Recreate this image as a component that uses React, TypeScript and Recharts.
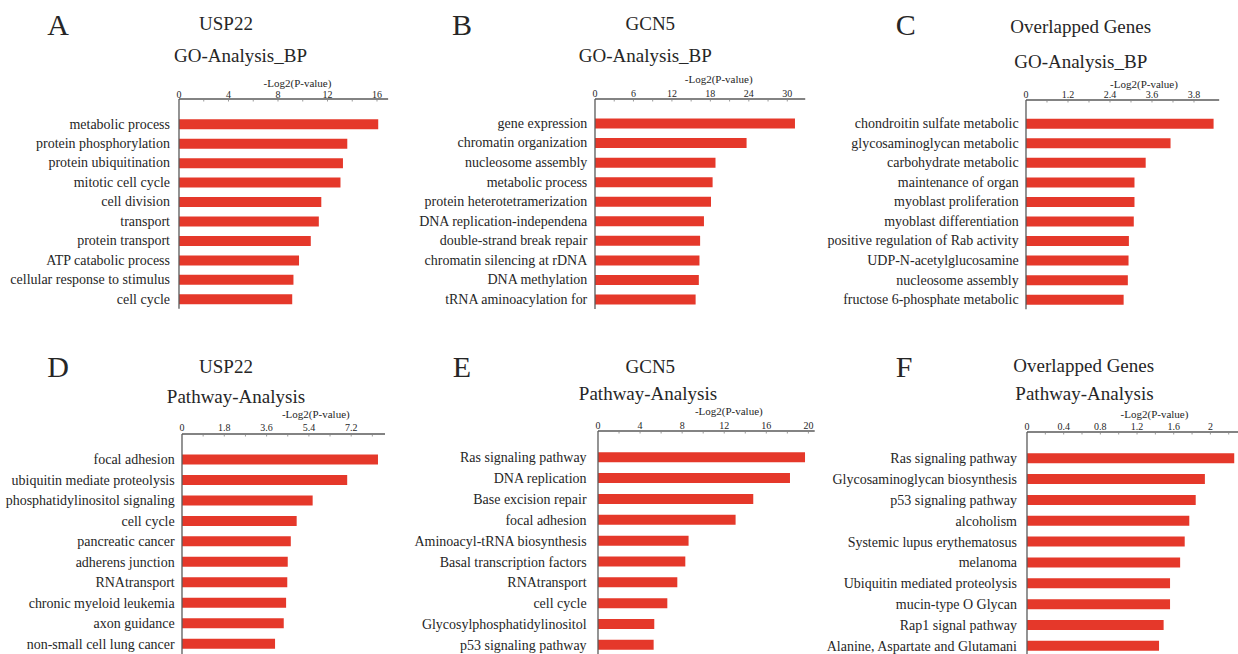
import React from 'react';
import { BarChart, Bar, XAxis, YAxis } from 'recharts';

const FONT = '"Liberation Serif", "Times New Roman", Times, serif';
const BAR_COLOR = '#e5382a';
const AXIS_COLOR = '#5a5a5a';
const TEXT_COLOR = '#262626';

// ---- Panel A: USP22 GO-Analysis_BP ----
const A_CATS = ['metabolic process', 'protein phosphorylation', 'protein ubiquitination', 'mitotic cell cycle', 'cell division', 'transport', 'protein transport', 'ATP catabolic process', 'cellular response to stimulus', 'cell cycle'];
const A_VALS = [16.1, 13.6, 13.25, 13.05, 11.5, 11.3, 10.65, 9.7, 9.25, 9.15];
const A_TICKS = [0, 2, 4, 6, 8, 10, 12, 14, 16];
const A_TICK_LABELS = ['0', '', '4', '', '8', '', '12', '', '16'];

// ---- Panel B: GCN5 GO-Analysis_BP ----
const B_CATS = ['gene expression', 'chromatin organization', 'nucleosome assembly', 'metabolic process', 'protein heterotetramerization', 'DNA replication-independena', 'double-strand break repair', 'chromatin silencing at rDNA', 'DNA methylation', 'tRNA aminoacylation for'];
const B_VALS = [31.2, 23.65, 18.8, 18.35, 18.1, 17.0, 16.4, 16.3, 16.2, 15.7];
const B_TICKS = [0, 3, 6, 9, 12, 15, 18, 21, 24, 27, 30];
const B_TICK_LABELS = ['0', '', '6', '', '12', '', '18', '', '24', '', '30'];

// ---- Panel C: Overlapped Genes GO-Analysis_BP ----
const C_CATS = ['chondroitin sulfate metabolic', 'glycosaminoglycan metabolic', 'carbohydrate metabolic', 'maintenance of organ', 'myoblast proliferation', 'myoblast differentiation', 'positive regulation of Rab activity', 'UDP-N-acetylglucosamine', 'nucleosome assembly', 'fructose 6-phosphate metabolic'];
const C_VALS = [5.36, 4.13, 3.42, 3.1, 3.1, 3.08, 2.94, 2.93, 2.91, 2.79];
const C_TICKS = [0, 0.6, 1.2, 1.8, 2.4, 3.0, 3.6, 4.2, 4.8];
const C_TICK_LABELS = ['0', '', '1.2', '', '2.4', '', '3.6', '', '3.8'];

// ---- Panel D: USP22 Pathway-Analysis ----
const D_CATS = ['focal adhesion', 'ubiquitin mediate proteolysis', 'phosphatidylinositol signaling', 'cell cycle', 'pancreatic cancer', 'adherens junction', 'RNAtransport', 'chronic myeloid leukemia', 'axon guidance', 'non-small cell lung cancer'];
const D_VALS = [8.34, 7.03, 5.56, 4.88, 4.63, 4.5, 4.48, 4.43, 4.33, 3.96];
const D_TICKS = [0, 0.9, 1.8, 2.7, 3.6, 4.5, 5.4, 6.3, 7.2, 8.1];
const D_TICK_LABELS = ['0', '', '1.8', '', '3.6', '', '5.4', '', '7.2', ''];

// ---- Panel E: GCN5 Pathway-Analysis ----
const E_CATS = ['Ras signaling pathway', 'DNA replication', 'Base excision repair', 'focal adhesion', 'Aminoacyl-tRNA biosynthesis', 'Basal transcription factors', 'RNAtransport', 'cell cycle', 'Glycosylphosphatidylinositol', 'p53 signaling pathway'];
const E_VALS = [19.68, 18.25, 14.76, 13.08, 8.61, 8.3, 7.54, 6.59, 5.35, 5.29];
const E_TICKS = [0, 2, 4, 6, 8, 10, 12, 14, 16, 18, 20];
const E_TICK_LABELS = ['0', '', '4', '', '8', '', '12', '', '16', '', '20'];

// ---- Panel F: Overlapped Genes Pathway-Analysis ----
const F_CATS = ['Ras signaling pathway', 'Glycosaminoglycan biosynthesis', 'p53 signaling pathway', 'alcoholism', 'Systemic lupus erythematosus', 'melanoma', 'Ubiquitin mediated proteolysis', 'mucin-type O Glycan', 'Rap1 signal pathway', 'Alanine, Aspartate and Glutamani'];
const F_VALS = [2.26, 1.94, 1.84, 1.77, 1.72, 1.67, 1.56, 1.56, 1.49, 1.44];
const F_TICKS = [0, 0.2, 0.4, 0.6, 0.8, 1.0, 1.2, 1.4, 1.6, 1.8, 2.0, 2.2];
const F_TICK_LABELS = ['0', '', '0.4', '', '0.8', '', '1.2', '', '1.6', '', '2', ''];

const AXIS_TITLE = '-Log2(P-value)';

type PanelProps = {
  cats: string[];
  vals: number[];
  ticks: number[];
  tickLabels: string[];
  x0: number;
  ppu: number;
  dmax: number;
  axisY: number;
  firstC: number;
  lastC: number;
  labelGap: number;
  tickBase: number;
};

const LABEL_W = 220;
const XAXIS_H = 24;

function Panel(p: PanelProps) {
  const rows = p.cats.map((c, i) => ({ name: c, value: p.vals[i] }));
  const band = (p.lastC - p.firstC) / (p.cats.length - 1);
  const padTop = p.firstC - p.axisY - band / 2;
  const plotH = padTop + band * p.cats.length;
  const plotW = p.dmax * p.ppu;
  const width = LABEL_W + plotW + 4;
  const height = XAXIS_H + plotH + 2;

  const XTick = (props: any) => {
    const { x, y, payload } = props;
    const idx = p.ticks.indexOf(payload.value);
    const label = idx >= 0 ? p.tickLabels[idx] : '';
    return (
      <g>
        {label !== '' && (
          <text x={x} y={y - p.tickBase} textAnchor="middle" fontSize={10} fontFamily={FONT} fill={TEXT_COLOR}>
            {label}
          </text>
        )}
        {payload.value !== 0 && (
          <line x1={x} x2={x} y1={y + 1} y2={y + 2.5} stroke="#9a9a9a" strokeWidth={1} />
        )}
      </g>
    );
  };

  const YTick = (props: any) => {
    const { x, y, payload } = props;
    return (
      <text x={x - p.labelGap} y={y + 4.6} textAnchor="end" fontSize={14} fontFamily={FONT} fill={TEXT_COLOR}>
        {payload.value}
      </text>
    );
  };

  return (
    <div style={{ position: 'absolute', left: p.x0 - LABEL_W, top: p.axisY - XAXIS_H }}>
      <BarChart
        width={width}
        height={height}
        data={rows}
        layout="vertical"
        margin={{ top: 0, right: 4, bottom: 2, left: 0 }}
      >
        <XAxis
          type="number"
          orientation="top"
          domain={[0, p.dmax]}
          ticks={p.ticks}
          interval={0}
          height={XAXIS_H}
          tickSize={0}
          tickMargin={0}
          tickLine={false}
          axisLine={{ stroke: AXIS_COLOR, strokeWidth: 1.3 }}
          tick={<XTick />}
          allowDataOverflow
        />
        <YAxis
          type="category"
          dataKey="name"
          width={LABEL_W}
          interval={0}
          tickSize={0}
          tickMargin={0}
          tickLine={false}
          axisLine={{ stroke: AXIS_COLOR, strokeWidth: 1.3 }}
          tick={<YTick />}
          padding={{ top: padTop, bottom: 0 }}
        />
        <Bar dataKey="value" fill={BAR_COLOR} barSize={10} isAnimationActive={false} />
      </BarChart>
    </div>
  );
}

type Txt = { t: string; x: number; y: number; s: number };

const LABELS: Txt[] = [
  { t: 'A', x: 58, y: 35, s: 30 },
  { t: 'USP22', x: 226, y: 30, s: 19 },
  { t: 'GO-Analysis_BP', x: 240.5, y: 62, s: 19 },
  { t: AXIS_TITLE, x: 297.5, y: 87, s: 11 },

  { t: 'B', x: 462, y: 35, s: 30 },
  { t: 'GCN5', x: 650.3, y: 30, s: 19 },
  { t: 'GO-Analysis_BP', x: 645.3, y: 62, s: 19 },
  { t: AXIS_TITLE, x: 718.7, y: 82.5, s: 11 },

  { t: 'C', x: 905.7, y: 35, s: 30 },
  { t: 'Overlapped Genes', x: 1080.7, y: 32.5, s: 19 },
  { t: 'GO-Analysis_BP', x: 1080.7, y: 68, s: 19 },
  { t: AXIS_TITLE, x: 1144, y: 88, s: 11 },

  { t: 'D', x: 58, y: 376.5, s: 30 },
  { t: 'USP22', x: 226, y: 373, s: 19 },
  { t: 'Pathway-Analysis', x: 236, y: 403, s: 19 },
  { t: AXIS_TITLE, x: 315.8, y: 418, s: 11 },

  { t: 'E', x: 462, y: 376.5, s: 30 },
  { t: 'GCN5', x: 650.3, y: 373, s: 19 },
  { t: 'Pathway-Analysis', x: 648, y: 400, s: 19 },
  { t: AXIS_TITLE, x: 728.8, y: 415, s: 11 },

  { t: 'F', x: 904, y: 376.5, s: 30 },
  { t: 'Overlapped Genes', x: 1083.7, y: 371.5, s: 19 },
  { t: 'Pathway-Analysis', x: 1084.5, y: 400, s: 19 },
  { t: AXIS_TITLE, x: 1154.5, y: 418, s: 11 },
];

export default function App() {
  return (
    <div
      style={{
        position: 'fixed',
        left: 0,
        top: 0,
        width: 1238,
        height: 654,
        overflow: 'hidden',
        background: '#ffffff',
        fontFamily: FONT,
      }}
    >
      <Panel cats={A_CATS} vals={A_VALS} ticks={A_TICKS} tickLabels={A_TICK_LABELS}
        x0={179} ppu={12.375} dmax={16.9} axisY={99} firstC={124} lastC={299} labelGap={9} tickBase={1} />
      <Panel cats={B_CATS} vals={B_VALS} ticks={B_TICKS} tickLabels={B_TICK_LABELS}
        x0={594.7} ppu={6.41} dmax={32.8} axisY={98.7} firstC={123} lastC={299} labelGap={7.7} tickBase={2} />
      <Panel cats={C_CATS} vals={C_VALS} ticks={C_TICKS} tickLabels={C_TICK_LABELS}
        x0={1026.3} ppu={35} dmax={5.52} axisY={99.5} firstC={123} lastC={299} labelGap={7.3} tickBase={2} />
      <Panel cats={D_CATS} vals={D_VALS} ticks={D_TICKS} tickLabels={D_TICK_LABELS}
        x0={182} ppu={23.5} dmax={8.64} axisY={434.3} firstC={460} lastC={644.3} labelGap={7.3} tickBase={2.5} />
      <Panel cats={E_CATS} vals={E_VALS} ticks={E_TICKS} tickLabels={E_TICK_LABELS}
        x0={597.7} ppu={10.52} dmax={20.6} axisY={431} firstC={457.7} lastC={645.3} labelGap={11.4} tickBase={1.5} />
      <Panel cats={F_CATS} vals={F_VALS} ticks={F_TICKS} tickLabels={F_TICK_LABELS}
        x0={1027.3} ppu={91.7} dmax={2.33} axisY={431.7} firstC={458.3} lastC={646} labelGap={10} tickBase={1.5} />

      <svg width={1238} height={654} style={{ position: 'absolute', left: 0, top: 0, pointerEvents: 'none' }}>
        {LABELS.map((l, i) => (
          <text key={i} x={l.x} y={l.y} textAnchor="middle" fontSize={l.s} fontFamily={FONT} fill={TEXT_COLOR}>
            {l.t}
          </text>
        ))}
      </svg>
    </div>
  );
}
